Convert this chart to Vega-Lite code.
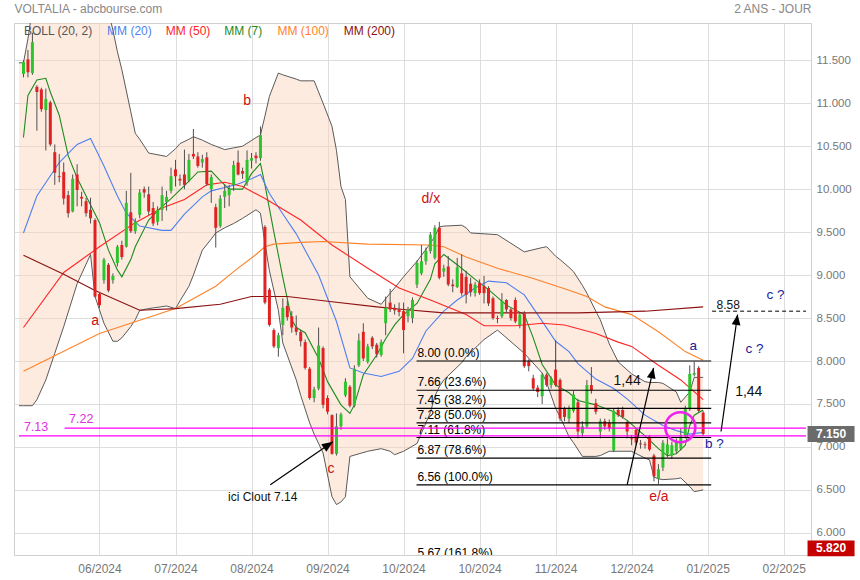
{
"$schema":"https://vega.github.io/schema/vega-lite/v6.json",
"width":797,"height":532,
"autosize":{"type":"none"},
"padding":{"left":14,"top":23,"right":49,"bottom":25},
"background":"white",
"config":{"font":"Liberation Sans","view":{"stroke":"#cfcfcf"}},
"datasets":{
"band":[
{"i":0,"up":11.47,"lo":7.48},{"i":1,"up":11.47,"lo":7.48},{"i":2,"up":11.75,"lo":7.48},{"i":3,"up":12.1,"lo":7.48},{"i":4,"up":12.3,"lo":7.55},{"i":6,"up":12.5,"lo":7.78},{"i":8,"up":12.6,"lo":8.09},{"i":10,"up":12.6,"lo":8.4},{"i":13,"up":12.55,"lo":8.9},{"i":16,"up":12.45,"lo":9.24},{"i":17,"up":12.5,"lo":8.75},{"i":19,"up":12.3,"lo":8.44},{"i":21,"up":11.85,"lo":8.23},{"i":22,"up":11.6,"lo":8.23},{"i":23,"up":11.39,"lo":8.27},{"i":25,"up":10.9,"lo":8.4},{"i":26,"up":10.65,"lo":8.48},{"i":27,"up":10.58,"lo":8.59},{"i":29,"up":10.42,"lo":8.61},{"i":33,"up":10.38,"lo":8.64},{"i":35,"up":10.47,"lo":8.61},{"i":36,"up":10.53,"lo":8.7},{"i":38,"up":10.58,"lo":8.87},{"i":39,"up":10.61,"lo":9.0},{"i":41,"up":10.57,"lo":9.29},{"i":43,"up":10.52,"lo":9.42},{"i":44,"up":10.5,"lo":9.49},{"i":46,"up":10.46,"lo":9.55},{"i":48,"up":10.48,"lo":9.6},{"i":50,"up":10.5,"lo":9.66},{"i":53,"up":10.6,"lo":9.76},{"i":54,"up":10.63,"lo":9.72},{"i":55,"up":10.85,"lo":9.37},{"i":56,"up":11.08,"lo":9.05},{"i":58,"up":11.35,"lo":8.59},{"i":59,"up":11.33,"lo":8.21},{"i":62,"up":11.28,"lo":7.78},{"i":63,"up":11.26,"lo":7.6},{"i":65,"up":11.26,"lo":7.28},{"i":66,"up":11.26,"lo":7.15},{"i":68,"up":11.0,"lo":6.93},{"i":70,"up":10.73,"lo":6.42},{"i":71,"up":10.45,"lo":6.33},{"i":72,"up":10.03,"lo":6.36},{"i":73,"up":9.88,"lo":6.42},{"i":74,"up":8.98,"lo":6.89},{"i":78,"up":8.73,"lo":6.95},{"i":81,"up":8.66,"lo":6.98},{"i":83,"up":8.79,"lo":6.95},{"i":84,"up":8.85,"lo":6.91},{"i":86,"up":8.98,"lo":6.95},{"i":89,"up":9.16,"lo":7.04},{"i":92,"up":9.37,"lo":7.4},{"i":93,"up":9.45,"lo":7.59},{"i":94,"up":9.56,"lo":7.7},{"i":95,"up":9.57,"lo":7.78},{"i":99,"up":9.58,"lo":7.98},{"i":100,"up":9.55,"lo":8.05},{"i":101,"up":9.49,"lo":8.1},{"i":104,"up":9.48,"lo":8.25},{"i":107,"up":9.47,"lo":8.36},{"i":113,"up":9.27,"lo":8.09},{"i":117,"up":9.32,"lo":7.86},{"i":118,"up":9.33,"lo":7.75},{"i":120,"up":9.22,"lo":7.45},{"i":121,"up":9.18,"lo":7.35},{"i":123,"up":9.09,"lo":7.12},{"i":124,"up":9.04,"lo":7.05},{"i":126,"up":8.88,"lo":6.89},{"i":127,"up":8.79,"lo":6.89},{"i":129,"up":8.58,"lo":6.89},{"i":130,"up":8.48,"lo":6.9},{"i":132,"up":8.2,"lo":6.95},{"i":134,"up":7.99,"lo":6.95},{"i":137,"up":7.85,"lo":6.95},{"i":140,"up":7.76,"lo":6.87},{"i":141,"up":7.75,"lo":6.85},{"i":142,"up":7.75,"lo":6.65},{"i":143,"up":7.75,"lo":6.63},{"i":144,"up":7.74,"lo":6.62},{"i":147,"up":7.64,"lo":6.63},{"i":148,"up":7.52,"lo":6.64},{"i":150,"up":7.64,"lo":6.54},{"i":151,"up":7.81,"lo":6.48},{"i":153,"up":7.81,"lo":6.5}
],
"mm":[
{"s":"MM7","i":1,"v":10.6},{"s":"MM7","i":2,"v":11.09},{"s":"MM7","i":4,"v":11.27},{"s":"MM7","i":6,"v":11.29},{"s":"MM7","i":7,"v":11.13},{"s":"MM7","i":9,"v":10.86},{"s":"MM7","i":11,"v":10.39},{"s":"MM7","i":13,"v":10.13},{"s":"MM7","i":15,"v":9.92},{"s":"MM7","i":18,"v":9.61},{"s":"MM7","i":20,"v":9.29},{"s":"MM7","i":22,"v":9.06},{"s":"MM7","i":23,"v":8.98},{"s":"MM7","i":25,"v":9.18},{"s":"MM7","i":26,"v":9.33},{"s":"MM7","i":29,"v":9.64},{"s":"MM7","i":32,"v":9.8},{"s":"MM7","i":34,"v":9.89},{"s":"MM7","i":37,"v":10.04},{"s":"MM7","i":40,"v":10.2},{"s":"MM7","i":43,"v":10.21},{"s":"MM7","i":45,"v":10.1},{"s":"MM7","i":47,"v":10.0},{"s":"MM7","i":50,"v":10.0},{"s":"MM7","i":52,"v":10.18},{"s":"MM7","i":54,"v":10.3},{"s":"MM7","i":55,"v":10.05},{"s":"MM7","i":57,"v":9.5},{"s":"MM7","i":59,"v":8.97},{"s":"MM7","i":61,"v":8.48},{"s":"MM7","i":62,"v":8.39},{"s":"MM7","i":64,"v":8.33},{"s":"MM7","i":67,"v":8.03},{"s":"MM7","i":69,"v":7.76},{"s":"MM7","i":72,"v":7.49},{"s":"MM7","i":74,"v":7.39},{"s":"MM7","i":75,"v":7.49},{"s":"MM7","i":77,"v":7.84},{"s":"MM7","i":80,"v":8.07},{"s":"MM7","i":82,"v":8.26},{"s":"MM7","i":84,"v":8.42},{"s":"MM7","i":86,"v":8.54},{"s":"MM7","i":89,"v":8.67},{"s":"MM7","i":92,"v":8.95},{"s":"MM7","i":93,"v":9.13},{"s":"MM7","i":95,"v":9.24},{"s":"MM7","i":98,"v":9.12},{"s":"MM7","i":102,"v":8.95},{"s":"MM7","i":105,"v":8.83},{"s":"MM7","i":109,"v":8.65},{"s":"MM7","i":113,"v":8.54},{"s":"MM7","i":115,"v":8.27},{"s":"MM7","i":117,"v":7.96},{"s":"MM7","i":120,"v":7.72},{"s":"MM7","i":123,"v":7.63},{"s":"MM7","i":125,"v":7.54},{"s":"MM7","i":129,"v":7.49},{"s":"MM7","i":133,"v":7.41},{"s":"MM7","i":136,"v":7.31},{"s":"MM7","i":140,"v":7.13},{"s":"MM7","i":143,"v":6.98},{"s":"MM7","i":145,"v":6.9},{"s":"MM7","i":147,"v":6.92},{"s":"MM7","i":149,"v":7.02},{"s":"MM7","i":150,"v":7.25},{"s":"MM7","i":151,"v":7.37},{"s":"MM7","i":153,"v":7.43},
{"s":"MM20","i":1,"v":9.49},{"s":"MM20","i":4,"v":9.92},{"s":"MM20","i":9,"v":10.31},{"s":"MM20","i":13,"v":10.52},{"s":"MM20","i":16,"v":10.59},{"s":"MM20","i":19,"v":10.27},{"s":"MM20","i":22,"v":9.92},{"s":"MM20","i":24,"v":9.72},{"s":"MM20","i":27,"v":9.57},{"s":"MM20","i":32,"v":9.52},{"s":"MM20","i":34,"v":9.52},{"s":"MM20","i":37,"v":9.71},{"s":"MM20","i":41,"v":9.91},{"s":"MM20","i":43,"v":9.98},{"s":"MM20","i":46,"v":10.02},{"s":"MM20","i":49,"v":10.06},{"s":"MM20","i":52,"v":10.12},{"s":"MM20","i":54,"v":10.17},{"s":"MM20","i":56,"v":9.95},{"s":"MM20","i":59,"v":9.71},{"s":"MM20","i":62,"v":9.48},{"s":"MM20","i":67,"v":9.0},{"s":"MM20","i":71,"v":8.46},{"s":"MM20","i":74,"v":7.92},{"s":"MM20","i":77,"v":7.86},{"s":"MM20","i":81,"v":7.82},{"s":"MM20","i":85,"v":7.88},{"s":"MM20","i":88,"v":8.03},{"s":"MM20","i":91,"v":8.35},{"s":"MM20","i":95,"v":8.58},{"s":"MM20","i":98,"v":8.71},{"s":"MM20","i":102,"v":8.85},{"s":"MM20","i":105,"v":8.93},{"s":"MM20","i":109,"v":8.91},{"s":"MM20","i":113,"v":8.77},{"s":"MM20","i":116,"v":8.54},{"s":"MM20","i":120,"v":8.23},{"s":"MM20","i":123,"v":8.11},{"s":"MM20","i":125,"v":7.97},{"s":"MM20","i":129,"v":7.79},{"s":"MM20","i":133,"v":7.68},{"s":"MM20","i":136,"v":7.56},{"s":"MM20","i":140,"v":7.37},{"s":"MM20","i":144,"v":7.25},{"s":"MM20","i":147,"v":7.19},{"s":"MM20","i":150,"v":7.15},{"s":"MM20","i":153,"v":7.17},
{"s":"MM50","i":1,"v":8.39},{"s":"MM50","i":10,"v":9.03},{"s":"MM50","i":18,"v":9.33},{"s":"MM50","i":26,"v":9.61},{"s":"MM50","i":32,"v":9.78},{"s":"MM50","i":37,"v":9.88},{"s":"MM50","i":42,"v":10.05},{"s":"MM50","i":46,"v":10.08},{"s":"MM50","i":50,"v":10.03},{"s":"MM50","i":55,"v":9.89},{"s":"MM50","i":63,"v":9.64},{"s":"MM50","i":70,"v":9.35},{"s":"MM50","i":78,"v":9.08},{"s":"MM50","i":85,"v":8.85},{"s":"MM50","i":92,"v":8.71},{"s":"MM50","i":100,"v":8.54},{"s":"MM50","i":104,"v":8.41},{"s":"MM50","i":111,"v":8.41},{"s":"MM50","i":117,"v":8.44},{"s":"MM50","i":122,"v":8.42},{"s":"MM50","i":129,"v":8.32},{"s":"MM50","i":134,"v":8.22},{"s":"MM50","i":137,"v":8.17},{"s":"MM50","i":143,"v":7.95},{"s":"MM50","i":148,"v":7.78},{"s":"MM50","i":153,"v":7.55},
{"s":"MM100","i":1,"v":7.88},{"s":"MM100","i":18,"v":8.32},{"s":"MM100","i":35,"v":8.61},{"s":"MM100","i":44,"v":8.87},{"s":"MM100","i":48,"v":9.04},{"s":"MM100","i":53,"v":9.24},{"s":"MM100","i":55,"v":9.33},{"s":"MM100","i":57,"v":9.36},{"s":"MM100","i":63,"v":9.38},{"s":"MM100","i":68,"v":9.39},{"s":"MM100","i":78,"v":9.36},{"s":"MM100","i":92,"v":9.35},{"s":"MM100","i":95,"v":9.33},{"s":"MM100","i":100,"v":9.21},{"s":"MM100","i":107,"v":9.08},{"s":"MM100","i":115,"v":8.96},{"s":"MM100","i":122,"v":8.84},{"s":"MM100","i":127,"v":8.75},{"s":"MM100","i":131,"v":8.63},{"s":"MM100","i":137,"v":8.54},{"s":"MM100","i":143,"v":8.34},{"s":"MM100","i":149,"v":8.11},{"s":"MM100","i":153,"v":8.01},
{"s":"MM200","i":1,"v":9.23},{"s":"MM200","i":10,"v":9.01},{"s":"MM200","i":17,"v":8.82},{"s":"MM200","i":27,"v":8.59},{"s":"MM200","i":35,"v":8.61},{"s":"MM200","i":45,"v":8.66},{"s":"MM200","i":52,"v":8.75},{"s":"MM200","i":60,"v":8.75},{"s":"MM200","i":70,"v":8.69},{"s":"MM200","i":80,"v":8.63},{"s":"MM200","i":86,"v":8.6},{"s":"MM200","i":95,"v":8.56},{"s":"MM200","i":110,"v":8.56},{"s":"MM200","i":125,"v":8.56},{"s":"MM200","i":140,"v":8.58},{"s":"MM200","i":153,"v":8.63}
],
"candles":[
{"i":1,"o":11.34,"h":11.5,"l":11.3,"c":11.48},{"i":2,"o":11.51,"h":11.62,"l":11.3,"c":11.36},{"i":3,"o":11.35,"h":11.82,"l":11.33,"c":11.71},{"i":4,"o":11.19,"h":11.21,"l":10.68,"c":11.13},{"i":5,"o":11.16,"h":11.18,"l":10.9,"c":10.93},{"i":6,"o":10.92,"h":11.17,"l":10.45,"c":11.05},{"i":7,"o":11.01,"h":11.03,"l":10.5,"c":10.52},{"i":8,"o":10.43,"h":10.52,"l":10.05,"c":10.19},{"i":9,"o":10.15,"h":10.41,"l":10.08,"c":10.14},{"i":10,"o":10.2,"h":10.31,"l":9.82,"c":9.89},
{"i":11,"o":9.93,"h":9.98,"l":9.67,"c":9.72},{"i":12,"o":9.74,"h":10.17,"l":9.73,"c":10.12},{"i":13,"o":10.17,"h":10.29,"l":9.8,"c":9.99},{"i":14,"o":9.91,"h":9.97,"l":9.8,"c":9.89},{"i":15,"o":9.86,"h":9.9,"l":9.68,"c":9.72},{"i":16,"o":9.76,"h":9.9,"l":9.6,"c":9.66},{"i":17,"o":9.64,"h":9.66,"l":8.74,"c":8.75},{"i":18,"o":8.78,"h":8.8,"l":8.62,"c":8.65},{"i":19,"o":8.94,"h":9.2,"l":8.9,"c":9.18},{"i":20,"o":9.12,"h":9.14,"l":8.8,"c":8.82},
{"i":21,"o":8.94,"h":9.02,"l":8.9,"c":8.99},{"i":22,"o":9.14,"h":9.35,"l":9.1,"c":9.33},{"i":23,"o":9.35,"h":9.4,"l":9.18,"c":9.21},{"i":24,"o":9.33,"h":9.98,"l":9.32,"c":9.84},{"i":25,"o":9.73,"h":10.19,"l":9.49,"c":9.51},{"i":26,"o":9.51,"h":9.66,"l":9.48,"c":9.62},{"i":27,"o":9.7,"h":10.0,"l":9.66,"c":9.96},{"i":28,"o":10.0,"h":10.03,"l":9.9,"c":9.96},{"i":29,"o":9.94,"h":10.03,"l":9.7,"c":9.74},{"i":30,"o":9.78,"h":9.85,"l":9.57,"c":9.6},
{"i":31,"o":9.62,"h":9.8,"l":9.58,"c":9.76},{"i":32,"o":9.76,"h":10.03,"l":9.63,"c":9.93},{"i":33,"o":9.85,"h":9.98,"l":9.75,"c":9.91},{"i":34,"o":9.98,"h":10.25,"l":9.95,"c":10.15},{"i":35,"o":10.23,"h":10.34,"l":10.03,"c":10.15},{"i":36,"o":10.12,"h":10.17,"l":10.04,"c":10.1},{"i":37,"o":10.17,"h":10.46,"l":10.0,"c":10.05},{"i":38,"o":10.1,"h":10.41,"l":10.08,"c":10.34},{"i":39,"o":10.41,"h":10.7,"l":10.35,"c":10.38},{"i":40,"o":10.38,"h":10.43,"l":10.25,"c":10.27},
{"i":41,"o":10.31,"h":10.4,"l":10.25,"c":10.35},{"i":42,"o":10.37,"h":10.43,"l":10.04,"c":10.06},{"i":43,"o":10.0,"h":10.17,"l":9.84,"c":10.14},{"i":44,"o":9.79,"h":9.83,"l":9.32,"c":9.55},{"i":45,"o":9.57,"h":9.93,"l":9.55,"c":9.89},{"i":46,"o":9.91,"h":10.05,"l":9.78,"c":9.98},{"i":47,"o":9.93,"h":10.05,"l":9.8,"c":10.0},{"i":48,"o":10.05,"h":10.33,"l":9.98,"c":10.28},{"i":49,"o":10.31,"h":10.45,"l":10.16,"c":10.17},{"i":50,"o":10.21,"h":10.25,"l":10.12,"c":10.18},
{"i":51,"o":10.08,"h":10.45,"l":10.04,"c":10.34},{"i":52,"o":10.33,"h":10.42,"l":10.24,"c":10.36},{"i":53,"o":10.39,"h":10.43,"l":10.3,"c":10.36},{"i":54,"o":10.36,"h":10.73,"l":10.33,"c":10.63},{"i":55,"o":9.56,"h":9.58,"l":8.66,"c":8.68},{"i":56,"o":8.83,"h":8.85,"l":8.4,"c":8.42},{"i":57,"o":8.36,"h":8.38,"l":8.15,"c":8.17},{"i":58,"o":8.15,"h":8.33,"l":8.05,"c":8.3},{"i":59,"o":8.42,"h":8.73,"l":8.3,"c":8.62},{"i":60,"o":8.64,"h":8.7,"l":8.47,"c":8.51},
{"i":61,"o":8.52,"h":8.58,"l":8.33,"c":8.39},{"i":62,"o":8.39,"h":8.53,"l":8.3,"c":8.34},{"i":63,"o":8.34,"h":8.36,"l":8.17,"c":8.23},{"i":64,"o":8.22,"h":8.25,"l":7.9,"c":7.92},{"i":65,"o":7.91,"h":7.93,"l":7.55,"c":7.57},{"i":66,"o":7.57,"h":7.7,"l":7.52,"c":7.67},{"i":67,"o":7.68,"h":8.39,"l":7.66,"c":8.18},{"i":68,"o":8.15,"h":8.17,"l":7.45,"c":7.49},{"i":69,"o":7.57,"h":7.6,"l":7.38,"c":7.41},{"i":70,"o":7.37,"h":7.38,"l":6.91,"c":6.92},
{"i":71,"o":6.92,"h":7.39,"l":6.9,"c":7.24},{"i":72,"o":7.24,"h":7.4,"l":7.2,"c":7.38},{"i":73,"o":7.6,"h":7.8,"l":7.58,"c":7.76},{"i":74,"o":7.7,"h":7.72,"l":7.46,"c":7.48},{"i":75,"o":7.48,"h":7.95,"l":7.46,"c":7.91},{"i":76,"o":7.95,"h":8.32,"l":7.93,"c":8.24},{"i":77,"o":8.34,"h":8.44,"l":8.0,"c":8.03},{"i":78,"o":7.99,"h":8.2,"l":7.97,"c":8.17},{"i":79,"o":8.27,"h":8.29,"l":8.14,"c":8.17},{"i":80,"o":8.19,"h":8.21,"l":8.04,"c":8.08},
{"i":81,"o":8.07,"h":8.25,"l":8.05,"c":8.22},{"i":82,"o":8.44,"h":8.75,"l":8.3,"c":8.62},{"i":83,"o":8.68,"h":8.84,"l":8.57,"c":8.6},{"i":84,"o":8.62,"h":8.66,"l":8.54,"c":8.59},{"i":85,"o":8.6,"h":8.68,"l":8.52,"c":8.57},{"i":86,"o":8.58,"h":8.68,"l":8.09,"c":8.36},{"i":87,"o":8.52,"h":8.63,"l":8.45,"c":8.6},{"i":88,"o":8.5,"h":8.74,"l":8.44,"c":8.71},{"i":89,"o":8.89,"h":9.17,"l":8.85,"c":9.14},{"i":90,"o":9.02,"h":9.35,"l":9.0,"c":9.16},
{"i":91,"o":9.16,"h":9.32,"l":9.12,"c":9.28},{"i":92,"o":9.28,"h":9.5,"l":9.25,"c":9.47},{"i":93,"o":9.2,"h":9.58,"l":9.18,"c":9.55},{"i":94,"o":9.55,"h":9.62,"l":8.95,"c":8.97},{"i":95,"o":9.04,"h":9.12,"l":8.98,"c":9.08},{"i":96,"o":9.1,"h":9.22,"l":8.87,"c":8.89},{"i":97,"o":8.89,"h":8.95,"l":8.8,"c":8.87},{"i":98,"o":8.86,"h":9.2,"l":8.85,"c":9.09},{"i":99,"o":9.02,"h":9.24,"l":8.76,"c":8.79},{"i":100,"o":8.98,"h":9.05,"l":8.67,"c":8.77},
{"i":101,"o":8.9,"h":8.97,"l":8.75,"c":8.8},{"i":102,"o":8.79,"h":8.92,"l":8.75,"c":8.89},{"i":103,"o":8.91,"h":8.95,"l":8.77,"c":8.79},{"i":104,"o":8.87,"h":8.99,"l":8.67,"c":8.79},{"i":105,"o":8.85,"h":8.87,"l":8.64,"c":8.67},{"i":106,"o":8.73,"h":8.75,"l":8.48,"c":8.5},{"i":107,"o":8.5,"h":8.53,"l":8.44,"c":8.49},{"i":108,"o":8.52,"h":8.79,"l":8.5,"c":8.7},{"i":109,"o":8.71,"h":8.72,"l":8.56,"c":8.6},{"i":110,"o":8.6,"h":8.62,"l":8.47,"c":8.5},
{"i":111,"o":8.71,"h":8.74,"l":8.44,"c":8.46},{"i":112,"o":8.42,"h":8.56,"l":8.38,"c":8.54},{"i":113,"o":8.56,"h":8.58,"l":7.92,"c":7.94},{"i":114,"o":8.0,"h":8.02,"l":7.88,"c":7.94},{"i":115,"o":7.8,"h":7.84,"l":7.66,"c":7.68},{"i":116,"o":7.69,"h":7.72,"l":7.58,"c":7.64},{"i":117,"o":7.59,"h":7.86,"l":7.5,"c":7.84},{"i":118,"o":7.84,"h":7.86,"l":7.7,"c":7.72},{"i":119,"o":7.72,"h":7.82,"l":7.68,"c":7.8},{"i":120,"o":7.9,"h":8.24,"l":7.7,"c":7.72},
{"i":121,"o":7.78,"h":7.8,"l":7.3,"c":7.33},{"i":122,"o":7.45,"h":7.47,"l":7.3,"c":7.35},{"i":123,"o":7.33,"h":7.48,"l":7.28,"c":7.45},{"i":124,"o":7.42,"h":7.65,"l":7.4,"c":7.61},{"i":125,"o":7.52,"h":7.56,"l":7.1,"c":7.18},{"i":126,"o":7.16,"h":7.3,"l":7.12,"c":7.24},{"i":127,"o":7.24,"h":7.78,"l":7.22,"c":7.72},{"i":128,"o":7.72,"h":7.93,"l":7.62,"c":7.66},{"i":129,"o":7.51,"h":7.56,"l":7.38,"c":7.41},{"i":130,"o":7.18,"h":7.33,"l":7.1,"c":7.3},
{"i":131,"o":7.3,"h":7.33,"l":7.2,"c":7.24},{"i":132,"o":7.28,"h":7.32,"l":7.18,"c":7.22},{"i":133,"o":6.96,"h":7.45,"l":6.94,"c":7.42},{"i":134,"o":7.43,"h":7.46,"l":7.35,"c":7.37},{"i":135,"o":7.43,"h":7.47,"l":7.33,"c":7.35},{"i":136,"o":7.29,"h":7.31,"l":7.1,"c":7.18},{"i":137,"o":7.1,"h":7.14,"l":7.02,"c":7.09},{"i":138,"o":7.2,"h":7.22,"l":7.02,"c":7.05},{"i":139,"o":7.04,"h":7.08,"l":6.98,"c":7.03},{"i":140,"o":7.03,"h":7.06,"l":6.98,"c":7.02},
{"i":141,"o":7.12,"h":7.14,"l":6.95,"c":6.97},{"i":142,"o":6.9,"h":6.92,"l":6.6,"c":6.66},{"i":143,"o":6.63,"h":6.8,"l":6.57,"c":6.74},{"i":144,"o":6.76,"h":7.08,"l":6.72,"c":7.05},{"i":145,"o":6.92,"h":7.1,"l":6.88,"c":7.03},{"i":146,"o":6.9,"h":7.06,"l":6.86,"c":7.02},{"i":147,"o":6.95,"h":7.1,"l":6.92,"c":7.07},{"i":148,"o":6.98,"h":7.22,"l":6.96,"c":7.13},{"i":149,"o":7.13,"h":7.48,"l":7.1,"c":7.44},{"i":150,"o":7.44,"h":7.95,"l":7.42,"c":7.85},
{"i":151,"o":7.84,"h":7.99,"l":7.82,"c":7.86},{"i":152,"o":7.92,"h":7.94,"l":7.4,"c":7.42},{"i":153,"o":7.4,"h":7.42,"l":7.13,"c":7.15}
],
"fib":[
{"level":8.0,"label":"8.00  (0.0%)"},{"level":7.66,"label":"7.66  (23.6%)"},{"level":7.45,"label":"7.45  (38.2%)"},{"level":7.28,"label":"7.28  (50.0%)"},{"level":7.11,"label":"7.11  (61.8%)"},{"level":6.87,"label":"6.87  (78.6%)"},{"level":6.56,"label":"6.56  (100.0%)"},{"level":5.67,"label":"5.67  (161.8%)"}
],
"arrows":[
{"name":"a1","i1":136.0,"p1":6.56,"i2":141.9,"p2":7.92},
{"name":"a2","i1":157.0,"p1":7.18,"i2":160.7,"p2":8.54},
{"name":"a3","i1":56.2,"p1":6.56,"i2":70.2,"p2":7.06}
],
"leg":[
{"i":1.1,"label":"BOLL (20, 2)","s":"BOLL"},{"i":19.7,"label":"MM (20)","s":"MM20"},{"i":32.8,"label":"MM (50)","s":"MM50"},{"i":45.9,"label":"MM (7)","s":"MM7"},{"i":57.8,"label":"MM (100)","s":"MM100"},{"i":72.6,"label":"MM (200)","s":"MM200"}
],
"waves":[
{"i":17.0,"p":8.47,"t":"a"},{"i":51.0,"p":11.02,"t":"b"},{"i":69.8,"p":6.74,"t":"c"},{"i":92.1,"p":9.88,"t":"d/x"},{"i":143.1,"p":6.42,"t":"e/a"}
],
"targets":[
{"i":150.8,"p":8.18,"t":"a"},{"i":169.2,"p":8.77,"t":"c ?"},{"i":164.5,"p":8.14,"t":"c ?"},{"i":155.5,"p":7.03,"t":"b ?"}
],
"bignotes":[
{"i":136.0,"p":7.77,"t":"1,44"},{"i":163.2,"p":7.64,"t":"1,44"}
],
"smallnotes":[
{"i":158.6,"p":8.65,"t":"8.58"},{"i":54.5,"p":6.42,"t":"ici Clout 7.14"}
],
"tags":[
{"v":7.15,"label":"7.150"},{"v":5.82,"label":"5.820"}
]
},
"layer":[
{"data":{"name":"band"},
 "mark":{"type":"area","color":"#fbd3ba","opacity":0.45,"clip":true},
 "encoding":{
  "x":{"field":"i","type":"quantitative","scale":{"domain":[0,176],"nice":false,"zero":false},
   "axis":{"values":[18,35,52,69,86,103,120,137,154,171],"labelExpr":"['06/2024','07/2024','08/2024','09/2024','10/2024','10/2024','11/2024','12/2024','01/2025','02/2025'][round((datum.value-18)/17)]","grid":true,"gridColor":"#dddddd","ticks":false,"domain":false,"labelColor":"#777777","labelFontSize":12,"labelPadding":8,"labelFont":"Liberation Sans",
   "title":"VOLTALIA - abcbourse.com","titleX":0,"titleY":-547,"titleAlign":"left","titleAnchor":"start","titleBaseline":"middle","titleAngle":0,"titleColor":"#888888","titleFontSize":12,"titleFontWeight":"normal","titleFont":"Liberation Sans"}},
  "y":{"field":"up","type":"quantitative","scale":{"domain":[5.743,11.933],"nice":false,"zero":false},
   "axis":{"orient":"right","values":[6,6.5,7,7.5,8,8.5,9,9.5,10,10.5,11,11.5],"format":".3f","grid":true,"gridColor":"#dddddd","ticks":false,"domain":false,"labelColor":"#777777","labelFontSize":11.5,"labelPadding":5,"labelFont":"Liberation Sans","title":"2 ANS - JOUR","titleAngle":0,"titleX":0,"titleY":-15,"titleAlign":"right","titleBaseline":"middle","titleColor":"#888888","titleFontSize":12,"titleFontWeight":"normal","titleFont":"Liberation Sans"}},
  "y2":{"field":"lo"}
 }},
{"data":{"name":"band"},"mark":{"type":"line","color":"#5a5a5a","strokeWidth":1,"clip":true},
 "encoding":{"x":{"field":"i","type":"quantitative"},"y":{"field":"up","type":"quantitative"}}},
{"data":{"name":"band"},"mark":{"type":"line","color":"#5a5a5a","strokeWidth":1,"clip":true},
 "encoding":{"x":{"field":"i","type":"quantitative"},"y":{"field":"lo","type":"quantitative"}}},
{"data":{"name":"mm"},"mark":{"type":"line","strokeWidth":1.1,"clip":true},
 "encoding":{"x":{"field":"i","type":"quantitative"},"y":{"field":"v","type":"quantitative"},
  "color":{"field":"s","type":"nominal","scale":{"domain":["BOLL","MM20","MM50","MM7","MM100","MM200"],"range":["#555555","#4f7ff0","#ff2424","#1e8a1e","#ff8228","#8b1010"]},"legend":null}}},
{"data":{"name":"candles"},"mark":{"type":"rule","color":"#505050","strokeWidth":1,"clip":true},
 "encoding":{"x":{"field":"i","type":"quantitative"},"y":{"field":"l","type":"quantitative"},"y2":{"field":"h"}}},
{"data":{"name":"candles"},"mark":{"type":"bar","size":3,"clip":true},
 "encoding":{"x":{"field":"i","type":"quantitative"},"y":{"field":"o","type":"quantitative"},"y2":{"field":"c"},
  "color":{"condition":{"test":"datum.c >= datum.o","value":"#2ec42e"},"value":"#e02222"}}},
{"data":{"name":"fib"},"mark":{"type":"rule","color":"#000000","strokeWidth":1.2,"clip":true},
 "encoding":{"x":{"datum":88.9},"x2":{"datum":154.8},"y":{"field":"level","type":"quantitative"}}},
{"data":{"name":"fib"},"mark":{"type":"text","align":"left","baseline":"bottom","dy":-1,"fontSize":12,"color":"#000000","clip":true},
 "encoding":{"x":{"datum":89.1},"y":{"field":"level","type":"quantitative"},"text":{"field":"label"}}},
{"data":{"values":[{"level":7.13,"label":"7.13"}]},"mark":{"type":"rule","color":"#ff00ff","strokeWidth":1.3},
 "encoding":{"x":{"datum":0},"x2":{"datum":176},"y":{"field":"level","type":"quantitative"}}},
{"data":{"values":[{"level":7.22,"label":"7.22"}]},"mark":{"type":"rule","color":"#ff00ff","strokeWidth":1.3},
 "encoding":{"x":{"datum":10.2},"x2":{"datum":176},"y":{"field":"level","type":"quantitative"}}},
{"data":{"values":[{"level":7.13,"label":"7.13"}]},"mark":{"type":"text","align":"left","baseline":"bottom","dy":-2,"fontSize":12.5,"color":"#e030e0"},
 "encoding":{"x":{"datum":1.1},"y":{"field":"level","type":"quantitative"},"text":{"field":"label"}}},
{"data":{"values":[{"level":7.22,"label":"7.22"}]},"mark":{"type":"text","align":"left","baseline":"bottom","dy":-2,"fontSize":12.5,"color":"#e030e0"},
 "encoding":{"x":{"datum":11.2},"y":{"field":"level","type":"quantitative"},"text":{"field":"label"}}},
{"data":{"values":[{"level":8.58}]},"mark":{"type":"rule","color":"#000000","strokeWidth":1,"strokeDash":[4,3]},
 "encoding":{"x":{"datum":155.0},"x2":{"datum":176},"y":{"field":"level","type":"quantitative"}}},
{"data":{"name":"arrows"},"mark":{"type":"rule","color":"#000000","strokeWidth":1.2},
 "encoding":{"x":{"field":"i1","type":"quantitative"},"y":{"field":"p1","type":"quantitative"},"x2":{"field":"i2"},"y2":{"field":"p2"}}},
{"data":{"name":"arrows"},"transform":[{"filter":"datum.name == 'a1'"}],"mark":{"type":"point","shape":"M0,0L-0.42,1L0.42,1Z","size":440,"filled":true,"color":"#000000","opacity":1,"angle":12.9},
 "encoding":{"x":{"field":"i2","type":"quantitative"},"y":{"field":"p2","type":"quantitative"}}},
{"data":{"name":"arrows"},"transform":[{"filter":"datum.name == 'a2'"}],"mark":{"type":"point","shape":"M0,0L-0.42,1L0.42,1Z","size":440,"filled":true,"color":"#000000","opacity":1,"angle":8.2},
 "encoding":{"x":{"field":"i2","type":"quantitative"},"y":{"field":"p2","type":"quantitative"}}},
{"data":{"name":"arrows"},"transform":[{"filter":"datum.name == 'a3'"}],"mark":{"type":"point","shape":"M0,0L-0.42,1L0.42,1Z","size":484,"filled":true,"color":"#000000","opacity":1,"angle":55.9},
 "encoding":{"x":{"field":"i2","type":"quantitative"},"y":{"field":"p2","type":"quantitative"}}},
{"data":{"values":[{"i":147.9,"p":7.23}]},"mark":{"type":"point","shape":"circle","size":900,"filled":false,"color":"#ee22ee","strokeWidth":2.6,"opacity":1},
 "encoding":{"x":{"field":"i","type":"quantitative"},"y":{"field":"p","type":"quantitative"}}},
{"data":{"name":"waves"},"mark":{"type":"text","fontSize":14,"color":"#cc1111","align":"center","baseline":"middle"},
 "encoding":{"x":{"field":"i","type":"quantitative"},"y":{"field":"p","type":"quantitative"},"text":{"field":"t"}}},
{"data":{"name":"targets"},"mark":{"type":"text","fontSize":13.5,"color":"#20209a","align":"center","baseline":"middle"},
 "encoding":{"x":{"field":"i","type":"quantitative"},"y":{"field":"p","type":"quantitative"},"text":{"field":"t"}}},
{"data":{"name":"bignotes"},"mark":{"type":"text","fontSize":14,"color":"#111111","align":"center","baseline":"middle"},
 "encoding":{"x":{"field":"i","type":"quantitative"},"y":{"field":"p","type":"quantitative"},"text":{"field":"t"}}},
{"data":{"name":"smallnotes"},"mark":{"type":"text","fontSize":12,"color":"#111111","align":"center","baseline":"middle"},
 "encoding":{"x":{"field":"i","type":"quantitative"},"y":{"field":"p","type":"quantitative"},"text":{"field":"t"}}},
{"data":{"name":"leg"},"mark":{"type":"text","fontSize":12,"align":"left","baseline":"middle"},
 "encoding":{"x":{"field":"i","type":"quantitative"},"y":{"datum":11.84},"text":{"field":"label"},
  "color":{"field":"s","type":"nominal","legend":null}}},
{"data":{"name":"tags"},"mark":{"type":"point","shape":"M-1,-0.34L1,-0.34L1,0.34L-1,0.34Z","size":2209,"filled":true,"opacity":1},
 "encoding":{"x":{"datum":181.6},"y":{"field":"v","type":"quantitative"},
  "color":{"condition":{"test":"datum.v > 6","value":"#6b6b6b"},"value":"#c40000"}}},
{"data":{"name":"tags"},"mark":{"type":"text","fontSize":12,"fontWeight":"bold","color":"#ffffff","align":"center","baseline":"middle"},
 "encoding":{"x":{"datum":181.6},"y":{"field":"v","type":"quantitative"},"text":{"field":"label"}}}
]
}
